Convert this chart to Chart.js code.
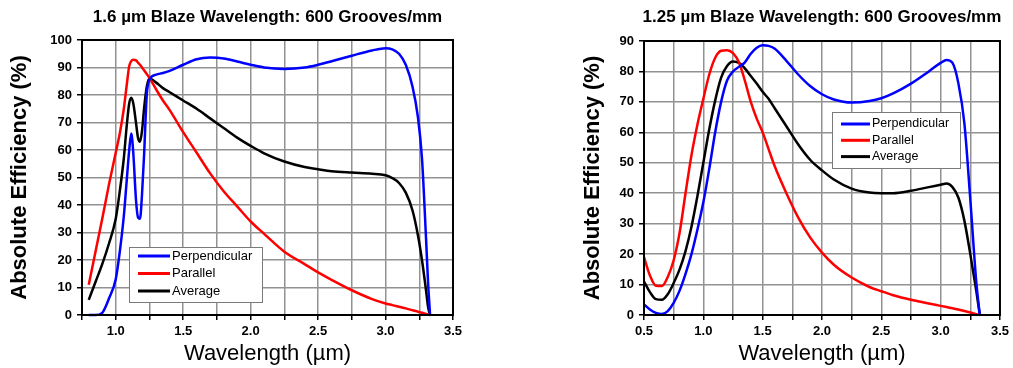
<!DOCTYPE html>
<html>
<head>
<meta charset="utf-8">
<script src="https://cdn.jsdelivr.net/npm/chart.js@4.4.1/dist/chart.umd.min.js"></script>
<style>
  body { margin: 0; background: #fff; }
  .panel { position: absolute; top: 0; }
</style>
</head>
<body>
<canvas id="chart16" class="panel" width="470" height="368" style="left:0px"></canvas>
<canvas id="chart125" class="panel" width="473" height="368" style="left:540px"></canvas>
<script>
// --- data ---
const seriesLabels = ['Perpendicular', 'Parallel', 'Average'];

// 1.6 um blaze
const wl16 = [0.80, 0.85, 0.90, 0.95, 1.00, 1.03, 1.06, 1.08, 1.10, 1.115, 1.13, 1.15, 1.165, 1.18, 1.195,
  1.21, 1.23, 1.25, 1.30, 1.35, 1.40, 1.50, 1.60, 1.70, 1.80, 1.90, 2.00, 2.10, 2.25, 2.40, 2.50, 2.60,
  2.75, 2.90, 3.00, 3.05, 3.10, 3.15, 3.20, 3.24, 3.27, 3.30, 3.315, 3.33];
const perp16 = [0, 0, 0.8, 6, 13, 23, 36, 48, 60, 66, 59, 42, 35.5, 35, 44,
  58, 80, 85.5, 87.4, 88, 88.8, 91, 93, 93.6, 93.3, 92.2, 91, 90, 89.5, 90, 91, 92.3,
  94.3, 96.2, 97, 96.6, 95, 91, 83, 72, 57, 28, 12, 0];
const par16 = [11, 23, 35, 47.5, 59, 66, 75, 83, 90.5, 92.3, 92.8, 92.6, 91.8, 91, 90,
  89, 87.6, 86.2, 82, 78, 74.5, 66.5, 59, 51.5, 45, 39.5, 34, 29.5, 23, 18.5, 15.5, 12.8,
  9, 5.8, 4.2, 3.6, 3, 2.4, 1.7, 1.2, 0.8, 0.4, 0.2, 0];
const avg16 = [5.5, 12, 18.5, 26, 35, 45, 57, 68, 77, 79, 77, 70, 64.5, 63, 67,
  75, 83, 86, 84.5, 82.5, 81, 78, 75, 71.5, 68, 64.5, 61.5, 58.8, 55.8, 53.8, 53, 52.3,
  51.8, 51.4, 50.8, 49.8, 48, 44.5, 38, 29, 20, 9, 3, 0];

// 1.25 um blaze
const wl125 = [0.50, 0.55, 0.60, 0.65, 0.70, 0.75, 0.80, 0.85, 0.90, 0.95, 1.00, 1.05, 1.10, 1.15, 1.20,
  1.25, 1.30, 1.35, 1.40, 1.45, 1.50, 1.55, 1.60, 1.70, 1.80, 1.90, 2.00, 2.10, 2.25, 2.40, 2.50,
  2.60, 2.75, 2.90, 3.00, 3.05, 3.10, 3.15, 3.20, 3.25, 3.30, 3.33];
const perp125 = [3.5, 1.8, 0.7, 0.3, 1.3, 4, 8, 13.5, 20, 28, 37, 48, 60, 70, 77,
  80, 81.5, 83, 85.8, 87.8, 88.6, 88.4, 87.5, 83.5, 79, 75.2, 72.5, 70.8, 69.8, 70.3, 71.2,
  72.8, 76, 80, 82.8, 83.8, 82.8, 76, 63, 38, 11, 0];
const par125 = [19, 13, 9.6, 9.5, 12.5, 18, 27, 40, 52.5, 62.5, 71, 79, 84.5, 86.8, 87,
  86, 83, 77, 70, 64.5, 60, 54.5, 49, 40, 32, 25.5, 20.5, 16.5, 12.3, 9.2, 7.8,
  6.5, 5, 3.8, 3, 2.6, 2.2, 1.8, 1.3, 0.8, 0.3, 0];
const avg125 = [11, 7.5, 5.2, 5, 6.8, 10.5, 15, 21, 29, 39, 50, 61, 70.5, 78, 81.8,
  83.3, 82.8, 81, 78.5, 76, 73.3, 71, 68, 62, 56, 51, 47.5, 44.5, 41.5, 40.2, 40,
  40, 40.8, 42, 42.8, 43.2, 42, 38.5, 31, 20, 8, 0];

Chart.defaults.font.family = '"Liberation Sans", Arial, sans-serif';
Chart.defaults.color = '#000';

const lineColors = ['#0000ff', '#ff0000', '#000000'];

// black box round the plot area (top/right sides are not axes)
const plotFrame = {
  id: 'plotFrame',
  afterDatasetsDraw(chart) {
    const { ctx, chartArea: a } = chart;
    ctx.save();
    ctx.strokeStyle = '#000';
    ctx.lineWidth = 2;
    ctx.strokeRect(a.left, a.top, a.right - a.left, a.bottom - a.top);
    ctx.restore();
  }
};

// heading centred over the plot area rather than the whole canvas
const areaTitle = {
  id: 'areaTitle',
  afterDraw(chart, args, o) {
    const { ctx, chartArea: a } = chart;
    ctx.save();
    ctx.font = 'bold 17px "Liberation Sans", Arial, sans-serif';
    ctx.fillStyle = '#000';
    ctx.textAlign = 'center';
    ctx.textBaseline = 'middle';
    ctx.fillText(o.text, (a.left + a.right) / 2, o.y);
    ctx.restore();
  }
};

// boxed legend sitting inside the plot, like the Origin export
const boxLegend = {
  id: 'boxLegend',
  afterDraw(chart, args, o) {
    const ctx = chart.ctx;
    ctx.save();
    ctx.fillStyle = '#fff';
    ctx.fillRect(o.x, o.y, o.w, o.h);
    ctx.strokeStyle = '#7a7a7a';
    ctx.lineWidth = 1;
    ctx.strokeRect(o.x + 0.5, o.y + 0.5, o.w, o.h);
    ctx.font = o.font;
    ctx.textBaseline = 'middle';
    chart.data.datasets.forEach((ds, i) => {
      const cy = o.y + o.firstRow + i * o.rowGap;
      ctx.strokeStyle = ds.borderColor;
      ctx.lineWidth = 3;
      ctx.beginPath();
      ctx.moveTo(o.x + o.lineStart, cy);
      ctx.lineTo(o.x + o.lineStart + o.lineLen, cy);
      ctx.stroke();
      ctx.fillStyle = '#000';
      ctx.fillText(ds.label, o.x + o.lineStart + o.lineLen + 2, cy);
    });
    ctx.restore();
  }
};

function makePanel(canvasId, p) {
  const datasets = p.series.map((values, i) => ({
    label: seriesLabels[i],
    data: p.wavelengths.map((w, j) => ({ x: w, y: values[j] })),
    borderColor: lineColors[i],
    borderWidth: 2.5,
    pointRadius: 0,
    cubicInterpolationMode: 'monotone',
    clip: 3
  }));

  const tickFont = { size: 13, weight: 'bold' };

  return new Chart(document.getElementById(canvasId), {
    type: 'line',
    data: { datasets },
    plugins: [plotFrame, areaTitle, boxLegend],
    options: {
      responsive: false,
      animation: false,
      layout: { padding: { left: 0, right: p.padRight, top: p.plotTop, bottom: 0 } },
      plugins: {
        legend: { display: false },
        tooltip: { enabled: false },
        title: { display: false },
        areaTitle: { text: p.title, y: 17.5 },
        boxLegend: p.legend
      },
      scales: {
        x: {
          type: 'linear',
          min: p.xMin,
          max: 3.5,
          afterFit: (s) => { s.height = 53; },
          ticks: {
            stepSize: 0.25,
            autoSkip: false,
            maxRotation: 0,
            padding: 4,
            font: tickFont,
            color: '#000',
            callback: (v) => (Math.abs(v * 2 - Math.round(v * 2)) < 1e-6 ? v.toFixed(1) : '')
          },
          grid: { color: '#929292', lineWidth: 1.5, tickColor: '#000', tickLength: 5, tickWidth: 1.5 },
          border: { color: '#000', width: 2 },
          title: {
            display: true,
            text: 'Wavelength (µm)',
            font: { size: 22, weight: 'normal' },
            color: '#000',
            padding: { top: 0, bottom: 1 }
          }
        },
        y: {
          min: 0,
          max: p.yMax,
          afterFit: (s) => { s.width = p.axisLeft; },
          ticks: { stepSize: 10, padding: 5, font: tickFont, color: '#000' },
          grid: { color: '#929292', lineWidth: 1.5, tickColor: '#000', tickLength: 5, tickWidth: 1.5 },
          border: { color: '#000', width: 2 },
          title: {
            display: true,
            text: 'Absolute Efficiency (%)',
            font: { size: p.yTitleSize, weight: 'bold' },
            color: '#000',
            padding: { top: p.yTitleOffset, bottom: 0 }
          }
        }
      }
    }
  });
}

makePanel('chart16', {
  title: '1.6 µm Blaze Wavelength: 600 Grooves/mm',
  wavelengths: wl16,
  series: [perp16, par16, avg16],
  xMin: 0.75,
  yMax: 100,
  axisLeft: 82,
  padRight: 17,
  plotTop: 40,
  yTitleSize: 22,
  yTitleOffset: 6.8,
  legend: { x: 129, y: 247, w: 133, h: 55, firstRow: 9, rowGap: 17.5, lineStart: 9, lineLen: 32, font: '13px "Liberation Sans", Arial, sans-serif' }
});

makePanel('chart125', {
  title: '1.25 µm Blaze Wavelength: 600 Grooves/mm',
  wavelengths: wl125,
  series: [perp125, par125, avg125],
  xMin: 0.5,
  yMax: 90,
  axisLeft: 104,
  padRight: 10,
  plotTop: 41,
  yTitleSize: 22,
  yTitleOffset: 39.8,
  legend: { x: 292, y: 112, w: 128, h: 56, firstRow: 12, rowGap: 16.3, lineStart: 9, lineLen: 29, font: '12.5px "Liberation Sans", Arial, sans-serif' }
});
</script>
</body>
</html>
